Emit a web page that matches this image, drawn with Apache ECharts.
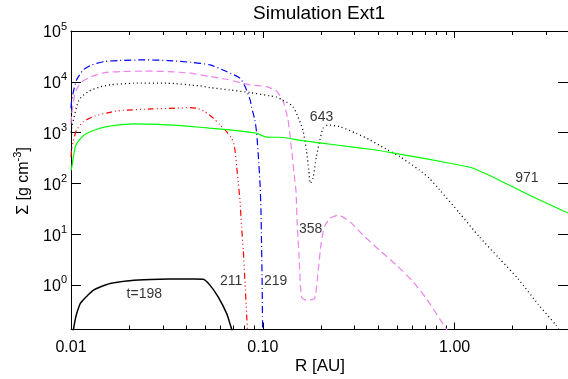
<!DOCTYPE html>
<html>
<head>
<meta charset="utf-8">
<script src="https://cdn.jsdelivr.net/npm/echarts@6/dist/echarts.min.js"></script>
<style>
  html, body { margin: 0; padding: 0; background: #fff; }
  #chart { width: 568px; height: 379px; }
</style>
</head>
<body>
<div id="chart"></div>
<script>
// Surface density profiles Σ(R) at several times, simulation Ext1
const FONT = '"Liberation Sans", Arial, Helvetica, sans-serif';

// [R (AU), Σ (g cm^-3)]
const t198 = [
  [0.01025, 0.12], [0.0105, 0.2], [0.0107, 0.27], [0.01118, 0.43], [0.0117, 0.53],
  [0.0122, 0.62], [0.0131, 0.79], [0.0145, 0.94], [0.016, 1.07], [0.0195, 1.2],
  [0.024, 1.27], [0.0291, 1.3], [0.036, 1.31], [0.044, 1.31], [0.049, 1.3],
  [0.053, 0.99], [0.0585, 0.58], [0.0648, 0.273], [0.0675, 0.17], [0.0695, 0.12]
];
const t211 = [
  [0.01, 330], [0.01007, 454], [0.0103, 700], [0.01069, 1125], [0.01159, 1640],
  [0.01333, 2120], [0.0155, 2450], [0.01762, 2700], [0.0263, 2920], [0.035, 3020],
  [0.0417, 3100], [0.0453, 3010], [0.0499, 2580], [0.0553, 1915], [0.0598, 1413],
  [0.0647, 1040], [0.0688, 773], [0.0705, 600], [0.0716, 454], [0.0731, 212],
  [0.0745, 100], [0.076, 46.8], [0.0775, 13.9], [0.0791, 4.83], [0.0808, 1.07],
  [0.0823, 0.273], [0.0832, 0.12]
];
const t219 = [
  [0.01, 3000], [0.01007, 4060], [0.0103, 6500], [0.01069, 10900], [0.01159, 17200],
  [0.0128, 21500], [0.01502, 25100], [0.01762, 26200], [0.02425, 27000], [0.032, 26200],
  [0.0435, 23900], [0.053, 21500], [0.0647, 15900], [0.076, 11800], [0.0808, 8040],
  [0.0859, 4400], [0.0873, 3240], [0.0909, 1770], [0.0929, 969], [0.0948, 335],
  [0.0967, 100], [0.0978, 29.7], [0.0983, 10.3], [0.0991, 1.44], [0.0998, 0.12]
];
const t358 = [
  [0.01, 1500], [0.01007, 2200], [0.0105, 5960], [0.0112, 9500], [0.0128, 12700],
  [0.01502, 15200], [0.01833, 15900], [0.02425, 16200], [0.032, 15900], [0.0417, 14800],
  [0.053, 12700], [0.0647, 11200], [0.0859, 8700], [0.1046, 8040], [0.1155, 6920],
  [0.1202, 6000], [0.1275, 4200], [0.1353, 1800], [0.1413, 454], [0.1468, 116],
  [0.149, 68], [0.1511, 16.3], [0.1546, 3.57], [0.1591, 0.58], [0.1687, 0.5],
  [0.1862, 0.54], [0.1937, 1.68], [0.2014, 6.56], [0.2096, 13.9], [0.2236, 20.4],
  [0.2475, 23.7], [0.2845, 17.5], [0.3333, 9.55], [0.4059, 4.83], [0.4977, 2.45],
  [0.6078, 1.15], [0.7126, 0.54], [0.8343, 0.217], [0.9035, 0.138], [0.93, 0.11]
];
const t643 = [
  [0.01, 1000], [0.0101, 1306], [0.011, 4400], [0.0123, 6410], [0.014, 7800],
  [0.016, 8700], [0.0212, 9380], [0.0316, 9380], [0.047, 8300], [0.053, 7690],
  [0.0672, 6920], [0.0859, 6120], [0.1089, 5300], [0.118, 5000], [0.1275, 4300],
  [0.1329, 4000], [0.1437, 3240], [0.1524, 2060], [0.1617, 1125], [0.1687, 454],
  [0.1736, 183], [0.1768, 100], [0.1827, 125], [0.1902, 335], [0.1984, 715],
  [0.2061, 1217], [0.2183, 1413], [0.2519, 1306], [0.3063, 969], [0.3621, 715],
  [0.406, 560], [0.4486, 454], [0.5178, 335], [0.6547, 183], [0.739, 125],
  [0.834, 75], [1.06, 26], [1.34, 9.0], [1.7, 3.4], [2.15, 1.3],
  [2.72, 0.42], [3.38, 0.16], [3.6, 0.11]
];
const t971 = [
  [0.01, 180], [0.0101, 212], [0.01053, 527], [0.0112, 760], [0.0121, 969],
  [0.0142, 1217], [0.017, 1380], [0.0212, 1480], [0.0316, 1413], [0.047, 1273],
  [0.0672, 1125], [0.0929, 969], [0.0985, 880], [0.105, 810], [0.1226, 808],
  [0.1617, 692], [0.2418, 569], [0.362, 469], [0.4578, 408], [0.739, 297],
  [1.17, 212], [1.24, 200], [1.64, 125], [2.44, 58.8], [3.9, 26]
];

// time labels placed in data coordinates
const curveLabels = [
  { name: 't=198', value: [0.0241, 0.67] },
  { name: '211', value: [0.0683, 1.18] },
  { name: '219', value: [0.1167, 1.18] },
  { name: '358', value: [0.1775, 12.5] },
  { name: '643', value: [0.2024, 2030] },
  { name: '971', value: [2.38, 124] }
];

// axis ranges and ticks
const rRange = [0.01, 3.9];
const sigmaRange = [0.1325, 1e5];
const rMajorLabels = { '0.01': '0.01', '0.1': '0.10', '1': '1.00' };
const rMinorTicks = [0.02, 0.03, 0.04, 0.05, 0.06, 0.07, 0.08, 0.09,
                     0.2, 0.3, 0.4, 0.5, 0.6, 0.7, 0.8, 0.9, 2, 3];

const chart = echarts.init(document.getElementById('chart'), null, { renderer: 'canvas' });

function isPow10(v) {
  const e = Math.log10(v);
  return Math.abs(e - Math.round(e)) < 1e-6;
}

const axisLineStyle = { show: true, lineStyle: { color: '#000', width: 1 } };

function xAxisCfg(pos, showLabel) {
  return {
    type: 'log', logBase: 10, position: pos, min: rRange[0], max: rRange[1],
    axisLine: axisLineStyle,
    axisTick: { show: true, inside: true, length: 7, lineStyle: { color: '#000' } },
    axisLabel: {
      show: showLabel, margin: 10, color: '#000', fontFamily: FONT, fontSize: 16,
      showMaxLabel: false,
      formatter: v => {
        if (!isPow10(v)) return '';
        const key = String(Math.pow(10, Math.round(Math.log10(v))));
        return rMajorLabels[key] || '';
      }
    },
    splitLine: { show: false }, minorTick: { show: false }
  };
}

function yAxisCfg(pos, showLabel) {
  return {
    type: 'log', logBase: 10, position: pos, min: sigmaRange[0], max: sigmaRange[1],
    axisLine: axisLineStyle,
    axisTick: { show: true, inside: true, length: 10, lineStyle: { color: '#000' } },
    axisLabel: {
      show: showLabel, margin: 4, color: '#000', fontFamily: FONT,
      showMinLabel: false,
      formatter: v => isPow10(v) ? '{b|10}{s|' + Math.round(Math.log10(v)) + '}' : '',
      rich: {
        b: { fontSize: 16, lineHeight: 20, fontFamily: FONT, color: '#000', verticalAlign: 'bottom' },
        s: { fontSize: 11, lineHeight: 12, fontFamily: FONT, color: '#000', verticalAlign: 'top' }
      }
    },
    splitLine: { show: false }, minorTick: { show: false }
  };
}

function curve(data, color, type, width) {
  return {
    type: 'line', data: data, xAxisIndex: 0, yAxisIndex: 0,
    showSymbol: false, symbol: 'none', smooth: 0.2, clip: true, silent: true,
    lineStyle: { color: color, width: width, type: type }
  };
}

const option = {
  animation: false,
  backgroundColor: '#fff',
  grid: { left: 71, top: 31, width: 498, height: 298.5, containLabel: false },
  xAxis: [xAxisCfg('bottom', true), xAxisCfg('top', false)],
  yAxis: [yAxisCfg('left', true), yAxisCfg('right', false)],
  graphic: [
    {
      type: 'text', x: 319, y: 14,
      style: { text: 'Simulation Ext1', fontFamily: FONT, fontSize: 19, fill: '#000',
               align: 'center', verticalAlign: 'middle' }
    },
    {
      type: 'text', x: 320, y: 366,
      style: { text: 'R [AU]', fontFamily: FONT, fontSize: 17, fill: '#000',
               align: 'center', verticalAlign: 'middle' }
    },
    {
      type: 'text', x: 22, y: 181, rotation: Math.PI / 2,
      style: {
        text: '{a|Σ [g cm}{s|-3}{a|]}', align: 'center', verticalAlign: 'middle',
        rich: {
          a: { fontFamily: FONT, fontSize: 16, lineHeight: 20, fill: '#000', verticalAlign: 'bottom' },
          s: { fontFamily: FONT, fontSize: 11, lineHeight: 12, fill: '#000', verticalAlign: 'top' }
        }
      }
    }
  ],
  series: [
    curve(t198, '#000000', 'solid', 1.5),
    curve(t211, '#ff0000', [6, 3, 1, 3, 1, 3, 1, 3], 1.2),
    curve(t219, '#0000ff', [7, 3, 1, 3], 1.2),
    curve(t358, '#ee82ee', [7, 4], 1.2),
    curve(t643, '#000000', [1, 3], 1.3),
    curve(t971, '#00ff00', 'solid', 1.2),
    {
      // log-spaced minor ticks on the bottom and top axes
      type: 'custom', xAxisIndex: 0, yAxisIndex: 0, silent: true, clip: false,
      data: rMinorTicks.map(v => [v, 1]),
      renderItem: (params, api) => {
        const x = Math.round(api.coord([api.value(0), 1])[0]) + 0.5;
        const cs = params.coordSys;
        const yb = cs.y + cs.height, yt = cs.y;
        return {
          type: 'group',
          children: [
            { type: 'line', shape: { x1: x, y1: yb, x2: x, y2: yb - 4 }, style: { stroke: '#000', lineWidth: 1 } },
            { type: 'line', shape: { x1: x, y1: yt, x2: x, y2: yt + 4 }, style: { stroke: '#000', lineWidth: 1 } }
          ]
        };
      }
    },
    {
      type: 'scatter', xAxisIndex: 0, yAxisIndex: 0, symbolSize: 0, silent: true,
      data: curveLabels,
      label: { show: true, position: 'inside', formatter: '{b}', color: '#000',
               fontFamily: FONT, fontSize: 14 }
    }
  ]
};

chart.setOption(option);
</script>
</body>
</html>
